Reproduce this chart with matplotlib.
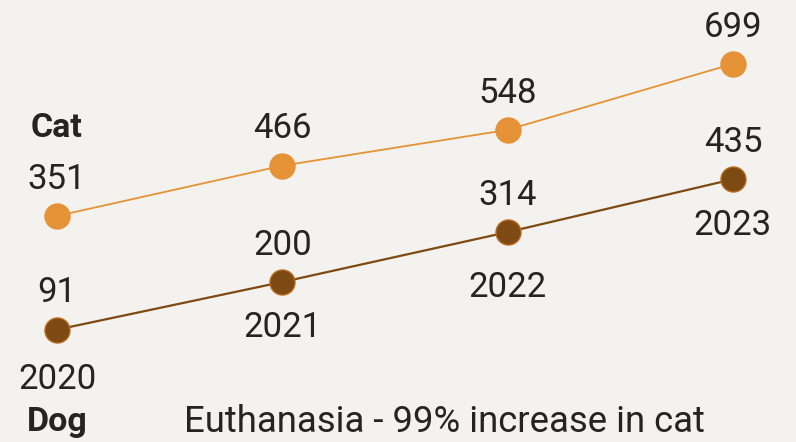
import matplotlib.pyplot as plt

# Data
years = ["2020", "2021", "2022", "2023"]
cat = [351, 466, 548, 699]
dog = [91, 200, 314, 435]

# Colours / styling
bg = "#F3F2EE"
cat_color = "#E69236"
dog_color = "#7C4A12"
text_color = "#262322"

plt.rcParams["font.family"] = ["Roboto", "DejaVu Sans"]

fig = plt.figure(figsize=(7.96, 4.42), dpi=100)
fig.patch.set_facecolor(bg)
ax = fig.add_axes([0, 0, 1, 1])
ax.set_facecolor(bg)
ax.set_xlim(-0.253, 3.28)
ax.set_ylim(-166, 845)
ax.axis("off")

x = range(len(years))

ax.plot(x, cat, color=cat_color, lw=1.3, marker="o", ms=18,
        mfc=cat_color, mec=cat_color, zorder=3)
ax.plot(x, dog, color=dog_color, lw=1.6, marker="o", ms=18,
        mfc=dog_color, mec="#B86A1E", mew=1.0, zorder=3)

# value labels above points
for i, v in enumerate(cat):
    ax.annotate(str(v), (i, v), xytext=(0, 26.5), textcoords="offset points",
                ha="center", va="center", fontsize=25, color=text_color)
for i, v in enumerate(dog):
    ax.annotate(str(v), (i, v), xytext=(0, 26.5), textcoords="offset points",
                ha="center", va="center", fontsize=25, color=text_color)

# year labels below dog points
year_offsets = [-36, -33, -40, -33]
for i, (yr, v) in enumerate(zip(years, dog)):
    ax.annotate(yr, (i, v), xytext=(0, year_offsets[i]), textcoords="offset points",
                ha="center", va="center", fontsize=25, color=text_color)

# series names
ax.text(0, 553, "Cat", ha="center", va="center", fontsize=24.5,
        fontweight="bold", color=text_color)
ax.text(0, -120, "Dog", ha="center", va="center", fontsize=24.5,
        fontweight="bold", color=text_color)

ax.text(1.72, -120, "Euthanasia - 99% increase in cat", ha="center",
        va="center", fontsize=26.3, color=text_color)

fig.savefig("out.png", dpi=100, facecolor=bg)
